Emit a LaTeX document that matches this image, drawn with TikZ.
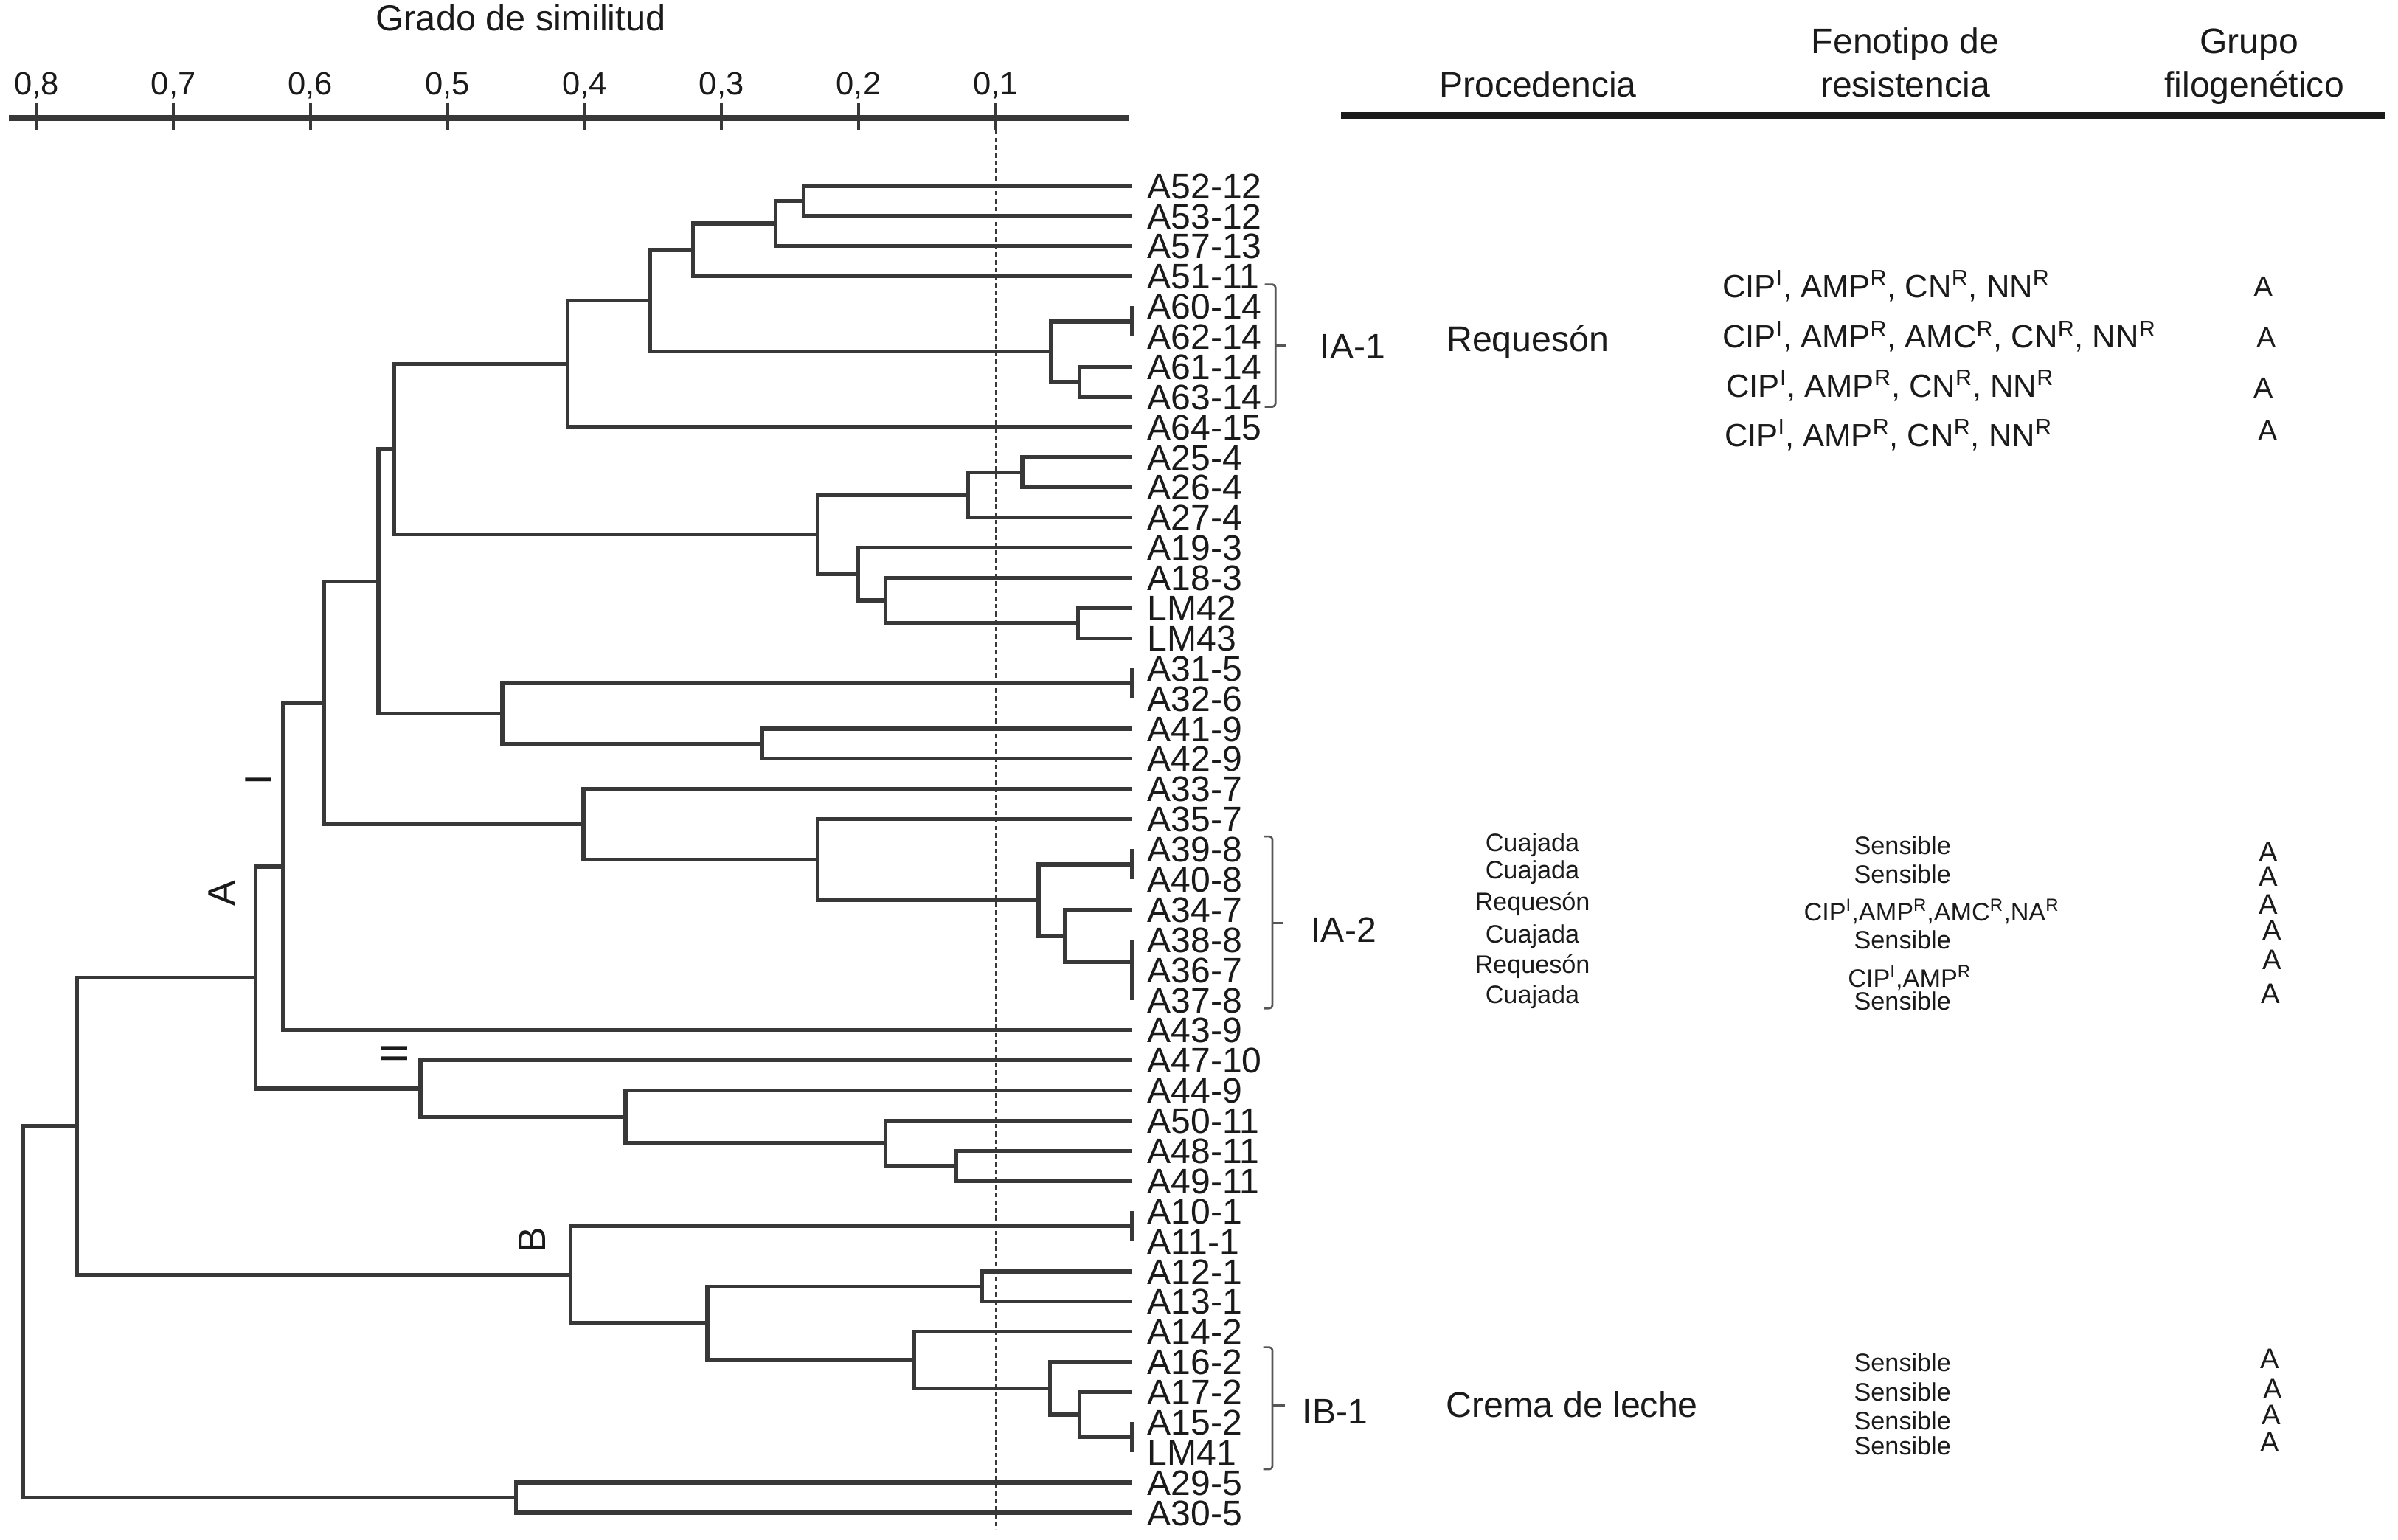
\documentclass[tikz,border=0pt]{standalone}
\usepackage{fontspec}
\setmainfont{Liberation Sans}
\usetikzlibrary{calc}
\definecolor{treegray}{HTML}{383838}
\definecolor{txt}{HTML}{1A1A1A}
\newcommand\sR{\textsuperscript{R}}
\newcommand\sI{\textsuperscript{I}}
\newcommand\dendjoin[4]{%
  \path let \p1=(#3), \p2=(#4) in ({#2pt},{(\y1+\y2)/2}) coordinate (#1);%
  \draw[treeline] (#3) -| (#1) |- (#4);}
\begin{document}
\begin{tikzpicture}[x=1pt,y=-1pt,
  treeline/.style={draw=treegray,line width=2.6pt},
  axisline/.style={draw=treegray,line width=4pt},
  tickline/.style={draw=treegray,line width=2.2pt},
  dotline/.style={draw=treegray,line width=1pt,dash pattern=on 3pt off 2pt},
  bracket/.style={draw=treegray!85,line width=1.3pt,rounded corners=2pt},
  leaf/.style={anchor=base west,inner sep=0pt,text=txt,font=\fontsize{23.2}{28}\selectfont},
  ticklab/.style={anchor=base,inner sep=0pt,text=txt,font=\fontsize{21}{25}\selectfont},
  head/.style={anchor=base,inner sep=0pt,text=txt,font=\fontsize{23.2}{28}\selectfont},
  big/.style={anchor=base,inner sep=0pt,text=txt,font=\fontsize{23.3}{28}\selectfont},
  pheno/.style={anchor=base west,inner sep=0pt,text=txt,font=\fontsize{21}{25}\selectfont},
  small/.style={anchor=base,inner sep=0pt,text=txt,font=\fontsize{16.5}{20}\selectfont},
  grpA/.style={anchor=base,inner sep=0pt,text=txt,font=\fontsize{19}{23}\selectfont},
  grpAs/.style={anchor=base,inner sep=0pt,text=txt,font=\fontsize{18.5}{22}\selectfont},
  clus/.style={anchor=center,inner sep=0pt,text=txt,rotate=90,font=\fontsize{25}{30}\selectfont}]
\useasboundingbox (0,0) rectangle (1568,1007);

% axis
\node[anchor=base,inner sep=0pt,text=txt,font=\fontsize{23.5}{28}\selectfont] (title) at (340.6,20) {Grado de similitud};
\coordinate (axL) at (6,77);
\coordinate (axR) at (738,77);
\draw[axisline] (axL) -- (axR);
\foreach \d in {8,7,6,5,4,3,2,1}{
  \pgfmathsetmacro\xx{740.6-89.6*\d}
  \draw[tickline] (\xx,67) -- (\xx,85);
  \node[ticklab] (tk\d) at (\xx,62) {0,\d};
}
\coordinate (dtop) at (651,85);
\coordinate (dbot) at (651,1000);
\draw[dotline] (dtop) -- (dbot);

% leaves
\foreach \nm [count=\i] in {A52-12,A53-12,A57-13,A51-11,A60-14,A62-14,A61-14,A63-14,A64-15,A25-4,A26-4,A27-4,A19-3,A18-3,LM42,LM43,A31-5,A32-6,A41-9,A42-9,A33-7,A35-7,A39-8,A40-8,A34-7,A38-8,A36-7,A37-8,A43-9,A47-10,A44-9,A50-11,A48-11,A49-11,A10-1,A11-1,A12-1,A13-1,A14-2,A16-2,A17-2,A15-2,LM41,A29-5,A30-5}{
  \pgfmathsetmacro\yy{121.5+(\i-1)*19.72}
  \coordinate (L\i) at (740,\yy);
  \node[leaf] (T\i) at (750,{\yy+8.3}) {\nm};
}

% tree
\dendjoin{n1}{525.5}{L1}{L2}
\dendjoin{n2}{507}{n1}{L3}
\dendjoin{n3}{453}{n2}{L4}
\dendjoin{n4}{740}{L5}{L6}
\dendjoin{n5}{706}{L7}{L8}
\dendjoin{n6}{687}{n4}{n5}
\dendjoin{n7}{425}{n3}{n6}
\dendjoin{n8}{371}{n7}{L9}
\dendjoin{n9}{668.5}{L10}{L11}
\dendjoin{n10}{633}{n9}{L12}
\dendjoin{n11}{705}{L15}{L16}
\dendjoin{n12}{579}{L14}{n11}
\dendjoin{n13}{561}{L13}{n12}
\dendjoin{n14}{534.5}{n10}{n13}
\dendjoin{n15}{257.5}{n8}{n14}
\dendjoin{n16}{740}{L17}{L18}
\dendjoin{n17}{498.5}{L19}{L20}
\dendjoin{n18}{328.5}{n16}{n17}
\dendjoin{n19}{247.5}{n15}{n18}
\dendjoin{n20}{740}{L23}{L24}
\dendjoin{n21}{740}{L27}{L28}
\dendjoin{n22}{740}{L26}{n21}
\dendjoin{n23}{696.5}{L25}{n22}
\dendjoin{n24}{679}{n20}{n23}
\dendjoin{n25}{534.5}{L22}{n24}
\dendjoin{n26}{381.5}{L21}{n25}
\dendjoin{n27}{212}{n19}{n26}
\dendjoin{n28}{185}{n27}{L29}
\dendjoin{n29}{625}{L33}{L34}
\dendjoin{n30}{579}{L32}{n29}
\dendjoin{n31}{409}{L31}{n30}
\dendjoin{n32}{275}{L30}{n31}
\dendjoin{n33}{167}{n28}{n32}
\dendjoin{n34}{740}{L35}{L36}
\dendjoin{n35}{642}{L37}{L38}
\dendjoin{n36}{740}{L42}{L43}
\dendjoin{n37}{706}{L41}{n36}
\dendjoin{n38}{686.5}{L40}{n37}
\dendjoin{n39}{597.5}{L39}{n38}
\dendjoin{n40}{462.5}{n35}{n39}
\dendjoin{n41}{373}{n34}{n40}
\dendjoin{n42}{50.5}{n33}{n41}
\dendjoin{n43}{337.5}{L44}{L45}
\dendjoin{root}{15}{n42}{n43}

% cluster letters
\node[clus] (cA) at (145,584) {A};
\node[clus] (cI) at (169,510) {I};
\node[clus] (cII) at (258,689) {II};
\node[clus] (cB) at (348,811) {B};

% brackets
\draw[bracket] (827,186) -- (834,186) -- (834,266) -- (827,266);
\draw[bracket] (834,226) -- (841,226);
\node[leaf,anchor=base] (IA1) at (884.5,234.4) {IA-1};
\draw[bracket] (826.5,547) -- (832,547) -- (832,659.4) -- (826.5,659.4);
\draw[bracket] (832,603.7) -- (839,603.7);
\node[leaf,anchor=base] (IA2) at (878.6,616) {IA-2};
\draw[bracket] (826,881) -- (832,881) -- (832,960.8) -- (826,960.8);
\draw[bracket] (832,919) -- (840,919);
\node[leaf,anchor=base] (IB1) at (873,931) {IB-1};

% table header
\node[head] (hP) at (1005.6,63.5) {Procedencia};
\node[head] (hF1) at (1245.8,35) {Fenotipo de};
\node[head] (hF2) at (1245.8,63.5) {resistencia};
\node[head] (hG1) at (1470.6,35) {Grupo};
\node[head] (hG2) at (1474,63.5) {filogenético};
\coordinate (hl) at (877,75.6);
\coordinate (hr) at (1560,75.6);
\draw[draw=txt,line width=4.5pt] (hl) -- (hr);

% IA-1 rows
\node[big] (p1) at (999,229.9) {Requesón};
\node[pheno] (f1) at (1126,194.5) {CIP\sI, AMP\sR, CN\sR, NN\sR};
\node[pheno] (f2) at (1126,227.5) {CIP\sI, AMP\sR, AMC\sR, CN\sR, NN\sR};
\node[pheno] (f3) at (1128.6,259.6) {CIP\sI, AMP\sR, CN\sR, NN\sR};
\node[pheno] (f4) at (1127.5,291.8) {CIP\sI, AMP\sR, CN\sR, NN\sR};
\node[grpA] (g1) at (1480,194) {A};
\node[grpA] (g2) at (1482,227.5) {A};
\node[grpA] (g3) at (1480,260) {A};
\node[grpA] (g4) at (1483,288) {A};

% IA-2 rows
\node[small] (p5) at (1002,557) {Cuajada};
\node[small] (p6) at (1002,574.7) {Cuajada};
\node[small] (p7) at (1002,595.6) {Requesón};
\node[small] (p8) at (1002,616.5) {Cuajada};
\node[small] (p9) at (1002,636.6) {Requesón};
\node[small] (p10) at (1002,656) {Cuajada};
\node[small] (f5) at (1244,558.7) {Sensible};
\node[small] (f6) at (1244,577.5) {Sensible};
\node[small] (f7) at (1263,602) {CIP\sI,AMP\sR,AMC\sR,NA\sR};
\node[small] (f8) at (1244,620.6) {Sensible};
\node[small] (f9) at (1248.6,645.5) {CIP\sI,AMP\sR};
\node[small] (f10) at (1244,660.4) {Sensible};
\node[grpAs] (g5) at (1483,563.5) {A};
\node[grpAs] (g6) at (1483,579.6) {A};
\node[grpAs] (g7) at (1483,598) {A};
\node[grpAs] (g8) at (1485.5,614.5) {A};
\node[grpAs] (g9) at (1485.5,634.2) {A};
\node[grpAs] (g10) at (1484.8,656) {A};

% IB-1 rows
\node[big] (p11) at (1028,926.8) {Crema de leche};
\node[small] (f11) at (1244,897) {Sensible};
\node[small] (f12) at (1244,916) {Sensible};
\node[small] (f13) at (1244,934.9) {Sensible};
\node[small] (f14) at (1244,951.4) {Sensible};
\node[grpAs] (g11) at (1484.4,894.7) {A};
\node[grpAs] (g12) at (1486,914.8) {A};
\node[grpAs] (g13) at (1485,931.7) {A};
\node[grpAs] (g14) at (1484.4,949.3) {A};
\end{tikzpicture}
\end{document}
